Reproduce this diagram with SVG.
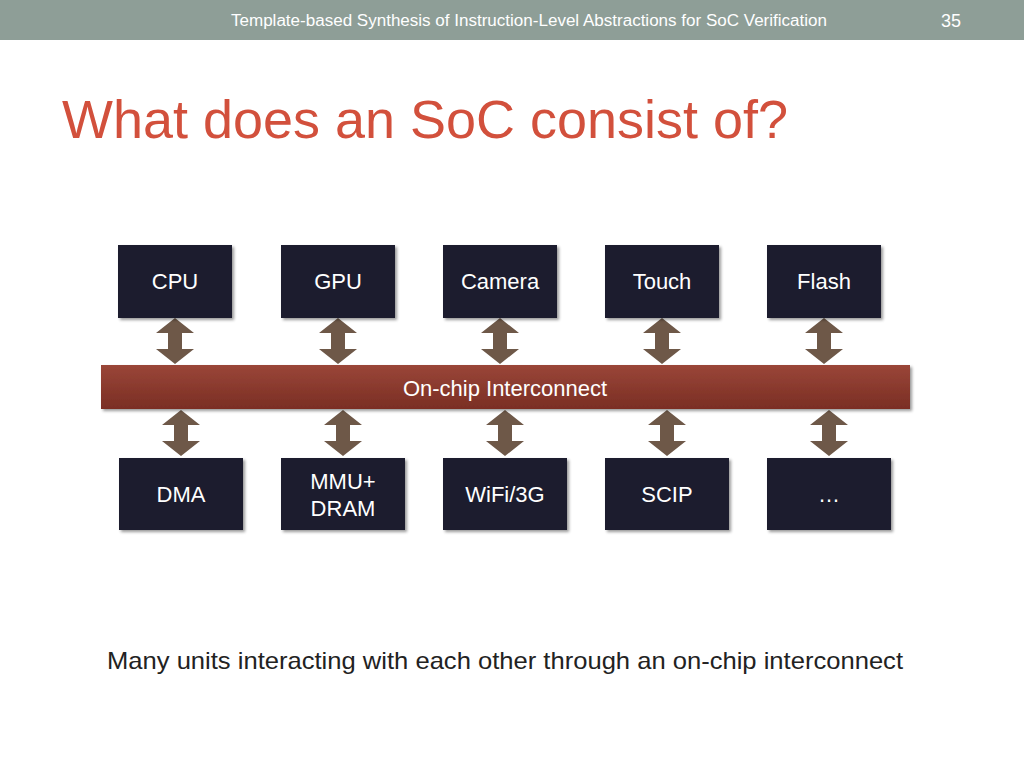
<svg xmlns="http://www.w3.org/2000/svg" width="1024" height="768" viewBox="0 0 1024 768">
<defs>
<style>
.box{fill:#1d1f2e;filter:url(#sh)}
.t{font-family:"Liberation Sans",Arial,sans-serif;fill:#fff;font-size:22px;text-anchor:middle}
.ar{fill:#6e5848}
</style>
<filter id="sh" x="-10%" y="-10%" width="130%" height="130%"><feDropShadow dx="2" dy="2" stdDeviation="1.5" flood-color="#000" flood-opacity="0.4"/></filter>
<linearGradient id="bar" x1="0" y1="0" x2="0" y2="1"><stop offset="0" stop-color="#9a4638"/><stop offset="1" stop-color="#7a2e24"/></linearGradient>
<path id="dar" d="M-7,0 L-7,-8 L-19,-8 L0,-23 L19,-8 L7,-8 L7,8 L19,8 L0,23 L-19,8 L-7,8 Z"/>
</defs>
<rect width="1024" height="768" fill="#fff"/>
<rect width="1024" height="40" fill="#8e9e97"/>
<text x="231" y="26" font-family="Liberation Sans,Arial,sans-serif" font-size="16" fill="#fff" textLength="596" lengthAdjust="spacingAndGlyphs">Template-based Synthesis of Instruction-Level Abstractions for SoC Verification</text>
<text x="951" y="27" font-family="Liberation Sans,Arial,sans-serif" font-size="18" fill="#fff" text-anchor="middle">35</text>
<text x="62" y="138" font-family="Liberation Sans,Arial,sans-serif" font-size="54" fill="#d2503c" textLength="726" lengthAdjust="spacingAndGlyphs">What does an SoC consist of?</text>
<g id="connectors" class="ar">
<use href="#dar" x="175" y="341"/><use href="#dar" x="338" y="341"/><use href="#dar" x="500" y="341"/><use href="#dar" x="662" y="341"/><use href="#dar" x="824" y="341"/>
<use href="#dar" x="181" y="433"/><use href="#dar" x="343" y="433"/><use href="#dar" x="505" y="433"/><use href="#dar" x="667" y="433"/><use href="#dar" x="829" y="433"/>
</g>
<g id="bus"><rect x="101" y="365" width="809" height="44" fill="url(#bar)" filter="url(#sh)"/><text class="t" x="505" y="396">On-chip Interconnect</text></g>
<g id="cpu"><rect class="box" x="118" y="245" width="114" height="73"/><text class="t" x="175" y="289">CPU</text></g>
<g id="gpu"><rect class="box" x="281" y="245" width="114" height="73"/><text class="t" x="338" y="289">GPU</text></g>
<g id="camera"><rect class="box" x="443" y="245" width="114" height="73"/><text class="t" x="500" y="289">Camera</text></g>
<g id="touch"><rect class="box" x="605" y="245" width="114" height="73"/><text class="t" x="662" y="289">Touch</text></g>
<g id="flash"><rect class="box" x="767" y="245" width="114" height="73"/><text class="t" x="824" y="289">Flash</text></g>
<g id="dma"><rect class="box" x="119" y="458" width="124" height="72"/><text class="t" x="181" y="502">DMA</text></g>
<g id="mmu"><rect class="box" x="281" y="458" width="124" height="72"/><text class="t" x="343" y="489">MMU+</text><text class="t" x="343" y="516">DRAM</text></g>
<g id="wifi"><rect class="box" x="443" y="458" width="124" height="72"/><text class="t" x="505" y="502">WiFi/3G</text></g>
<g id="scip"><rect class="box" x="605" y="458" width="124" height="72"/><text class="t" x="667" y="502">SCIP</text></g>
<g id="more"><rect class="box" x="767" y="458" width="124" height="72"/><text class="t" x="829" y="502">…</text></g>
<text x="107" y="669" font-family="Liberation Sans,Arial,sans-serif" font-size="24" fill="#222" textLength="796" lengthAdjust="spacingAndGlyphs">Many units interacting with each other through an on-chip interconnect</text>
</svg>
